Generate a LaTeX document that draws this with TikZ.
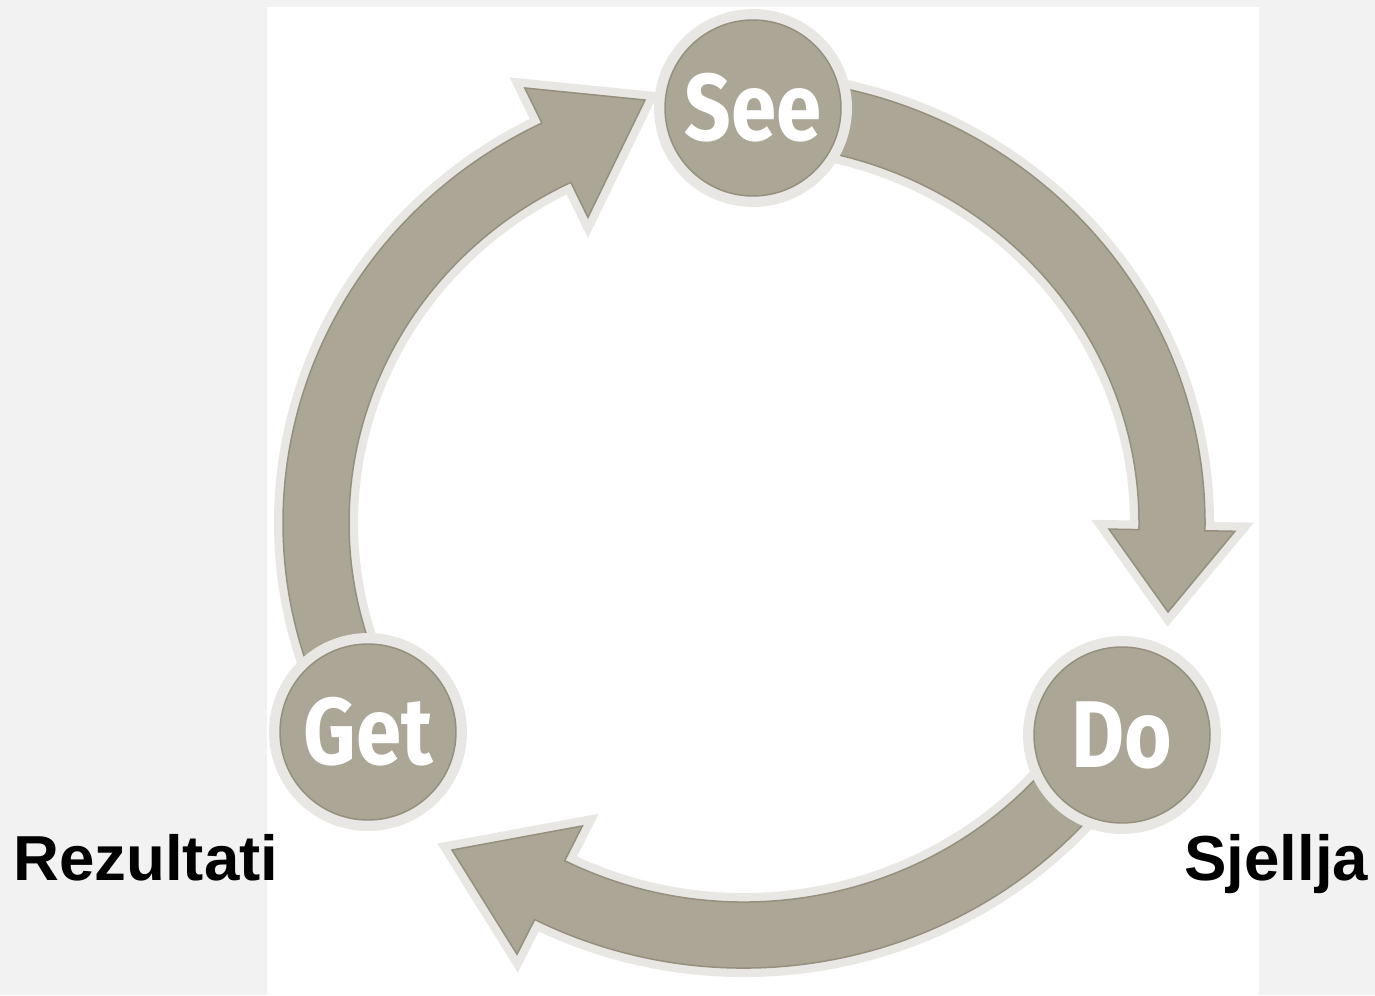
\documentclass[tikz,border=0pt]{standalone}
\usepackage{fontspec}
\setmainfont{Liberation Sans}
\newfontfamily\roundfont{Fira Sans}[FakeStretch=0.86]
\usetikzlibrary{calc}
\definecolor{bandgray}{RGB}{172,166,150}
\definecolor{rimgray}{RGB}{232,231,227}
\definecolor{edgegray}{RGB}{150,143,125}
\definecolor{pagegray}{RGB}{242,242,242}

\begin{document}
\begin{tikzpicture}[x=0.02cm,y=0.02cm,
  band/.style={fill=bandgray,draw=edgegray,line width=0.03cm,line join=miter,
    preaction={draw=rimgray,line width=0.36cm,line join=miter}},
  stage/.style={circle,fill=bandgray,draw=rimgray,line width=0.22cm,minimum size=3.74cm,
    inner sep=0pt,text=white,font=\roundfont\bfseries\fontsize{54}{54}\selectfont},
  side/.style={anchor=base west,inner sep=0pt,font=\bfseries\fontsize{36.2}{40}\selectfont}]
\useasboundingbox (0,0) rectangle (1375,995);
\fill[pagegray] (0,0) rectangle (1375,995);
\fill[white] (267,0) rectangle (1259,988);
\coordinate (ctr) at (744,472);

\draw[band] ($(ctr)+(88:461 and 445)$) arc[start angle=88,end angle=-1,x radius=461,y radius=445]
  -- ($(ctr)+(-1:491 and 475)$) -- (1168,383) -- ($(ctr)+(-1:365 and 349)$)
  -- ($(ctr)+(-1:395 and 379)$) arc[start angle=-1,end angle=88,x radius=395,y radius=379] -- cycle;
\draw[band] ($(ctr)+(-30:461 and 445)$) arc[start angle=-30,end angle=-117,x radius=461,y radius=445]
  -- ($(ctr)+(-117:500 and 484)$) -- (452,145) -- ($(ctr)+(-117:356 and 340)$)
  -- ($(ctr)+(-117:395 and 379)$) arc[start angle=-117,end angle=-30,x radius=395,y radius=379] -- cycle;
\draw[band] ($(ctr)+(210:461 and 445)$) arc[start angle=210,end angle=116,x radius=461,y radius=445]
  -- ($(ctr)+(116:500 and 484)$) -- (645,895) -- ($(ctr)+(116:356 and 340)$)
  -- ($(ctr)+(116:395 and 379)$) arc[start angle=116,end angle=210,x radius=395,y radius=379] -- cycle;

\node[stage] (see) at (753,887) {See};
\node[stage] (do) at (1122,260) {Do};
\node[stage] (get) at (368,263) {Get};
\draw[edgegray,line width=0.03cm] (see.center) circle[radius=1.76cm];
\draw[edgegray,line width=0.03cm] (do.center) circle[radius=1.76cm];
\draw[edgegray,line width=0.03cm] (get.center) circle[radius=1.76cm];

\node[side] (rez) at (13,115) {Rezultati};
\node[side] (sje) at (1184,115) {Sjellja};
\end{tikzpicture}
\end{document}
